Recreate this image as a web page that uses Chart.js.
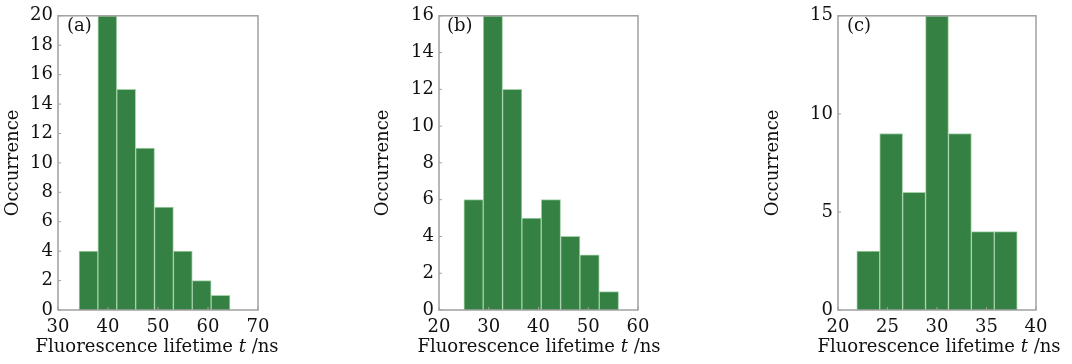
<!DOCTYPE html>
<html>
<head>
<meta charset="utf-8">
<script src="https://cdn.jsdelivr.net/npm/chart.js@4.4.0/dist/chart.umd.min.js"></script>
<style>
  html, body { margin: 0; padding: 0; background: #fff; }
  body { width: 1072px; height: 364px; position: relative; overflow: hidden; font-family: "DejaVu Serif", serif; }
  .panel { position: absolute; top: 0; height: 364px; }
  .xt { position: absolute; font-family: "DejaVu Serif", serif; font-size: 18px; line-height: 20px; color: #111; white-space: nowrap; transform: translateX(-50%); top: 336px; }
  .lab { position: absolute; font-family: "DejaVu Serif", serif; font-size: 18px; color: #111; top: 14px; }
</style>
</head>
<body>
<div class="panel" style="left:0;width:290px"><canvas id="ca"></canvas></div>
<div class="panel" style="left:370px;width:300px"><canvas id="cb"></canvas></div>
<div class="panel" style="left:760px;width:312px"><canvas id="cc"></canvas></div>

<div class="xt" style="left:157px">Fluorescence lifetime <i>t</i> /ns</div>
<div class="xt" style="left:539px">Fluorescence lifetime <i>t</i> /ns</div>
<div class="xt" style="left:939px">Fluorescence lifetime <i>t</i> /ns</div>
<div class="lab" style="left:67px">(a)</div>
<div class="lab" style="left:447px">(b)</div>
<div class="lab" style="left:847px">(c)</div>

<script>
// ---- data ----
const edgesA  = [34.2, 37.98, 41.75, 45.53, 49.3, 53.08, 56.85, 60.63, 64.4];
const countsA = [4, 20, 15, 11, 7, 4, 2, 1];
const xTicksA = [30, 40, 50, 60, 70];
const yTicksA = [0, 2, 4, 6, 8, 10, 12, 14, 16, 18, 20];

const edgesB  = [25.0, 28.89, 32.78, 36.66, 40.55, 44.44, 48.33, 52.21, 56.1];
const countsB = [6, 16, 12, 5, 6, 4, 3, 1];
const xTicksB = [20, 30, 40, 50, 60];
const yTicksB = [0, 2, 4, 6, 8, 10, 12, 14, 16];

const edgesC  = [21.9, 24.21, 26.53, 28.84, 31.16, 33.47, 35.79, 38.1];
const countsC = [3, 9, 6, 15, 9, 4, 4];
const xTicksC = [20, 25, 30, 35, 40];
const yTicksC = [0, 5, 10, 15];

const BAR = '#358043';
const BAR_EDGE = '#a3d1a9';
const FRAME = '#a0a0a0';
const FONT = { family: '"DejaVu Serif", serif', size: 18 };

const framePlugin = {
  id: 'frame',
  afterDatasetsDraw(chart) {
    const a = chart.chartArea, ctx = chart.ctx;
    ctx.save();
    ctx.strokeStyle = FRAME;
    ctx.lineWidth = 1.5;
    ctx.strokeRect(a.left, a.top, a.right - a.left, a.bottom - a.top);
    ctx.lineWidth = 1;
    chart.scales.y.ticks.forEach(t => {
      const py = chart.scales.y.getPixelForValue(t.value);
      ctx.beginPath(); ctx.moveTo(a.left, py); ctx.lineTo(a.left + 3, py); ctx.stroke();
    });
    chart.scales.x.ticks.forEach(t => {
      const px = chart.scales.x.getPixelForValue(t.value);
      ctx.beginPath(); ctx.moveTo(px, a.bottom); ctx.lineTo(px, a.bottom - 3); ctx.stroke();
    });
    ctx.restore();
  }
};

function makeChart(id, edges, counts, xTicks, yTicks, canvasW, plotLeft, plotRight) {
  const data = counts.map((c, i) => ({ x: (edges[i] + edges[i + 1]) / 2, y: c }));
  const el = document.getElementById(id);
  el.width = canvasW; el.height = 364;
  const padLeft = 0;
  return new Chart(el, {
    type: 'bar',
    data: { datasets: [{
      data,
      backgroundColor: BAR,
      borderColor: BAR_EDGE,
      borderWidth: 1,
      borderSkipped: 'bottom',
      barPercentage: 1,
      categoryPercentage: 1
    }] },
    options: {
      responsive: false,
      animation: false,
      devicePixelRatio: 1,
      layout: { padding: { left: padLeft, top: 11, right: canvasW - plotRight, bottom: 0 } },
      plugins: { legend: { display: false }, tooltip: { enabled: false } },
      scales: {
        x: {
          type: 'linear',
          offset: false,
          min: xTicks[0], max: xTicks[xTicks.length - 1],
          afterBuildTicks(s) { s.ticks = xTicks.map(v => ({ value: v })); },
          afterFit(s) { s.height = 54; },
          grid: { display: false, drawTicks: false, offset: false },
          border: { display: false },
          ticks: { color: '#111', font: FONT, padding: 7, maxRotation: 0, autoSkip: false }
        },
        y: {
          min: yTicks[0], max: yTicks[yTicks.length - 1],
          afterBuildTicks(s) { s.ticks = yTicks.map(v => ({ value: v })); },
          afterFit(s) { s.width = plotLeft - padLeft; },
          grid: { display: false, drawTicks: false },
          border: { display: false },
          ticks: { color: '#111', font: FONT, padding: 5, autoSkip: false },
          title: { display: true, text: 'Occurrence', color: '#111', font: FONT, padding: { top: 3, bottom: 0 } }
        }
      }
    },
    plugins: [framePlugin]
  });
}

makeChart('ca', edgesA, countsA, xTicksA, yTicksA, 290, 58, 258);
makeChart('cb', edgesB, countsB, xTicksB, yTicksB, 300, 69, 268);
makeChart('cc', edgesC, countsC, xTicksC, yTicksC, 312, 78, 276);
</script>
</body>
</html>
